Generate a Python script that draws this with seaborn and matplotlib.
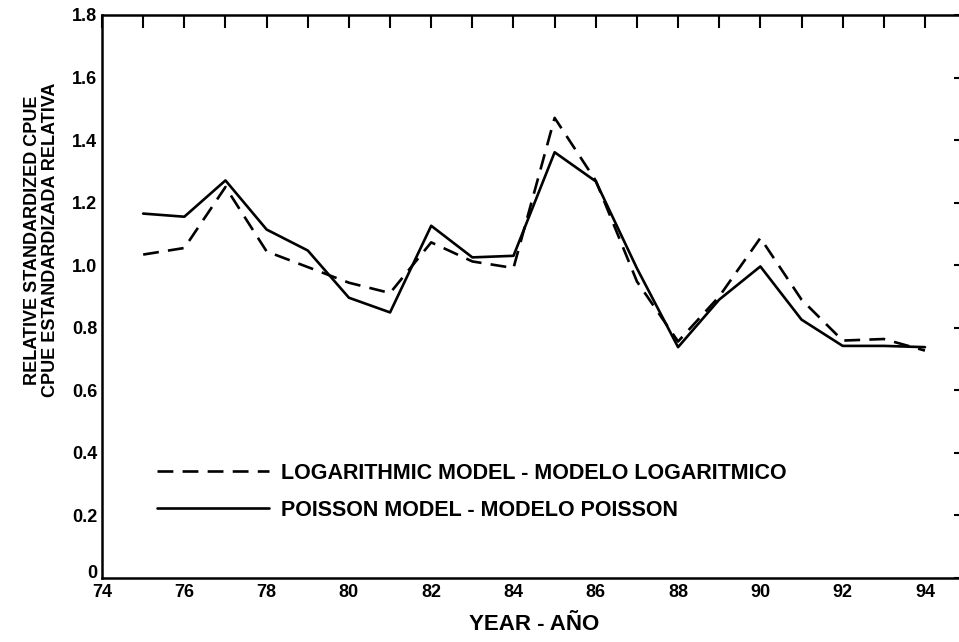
import pandas as pd
import matplotlib
matplotlib.use('Agg')
import matplotlib.pyplot as plt
import matplotlib.transforms as mtransforms
import seaborn as sns

# data
years = list(range(75, 95))
log_model = [1.034, 1.055, 1.25, 1.044, 0.994, 0.944, 0.911, 1.073, 1.012, 0.991,
             1.471, 1.27, 0.948, 0.756, 0.90, 1.087, 0.89, 0.759, 0.764, 0.727]
poisson_model = [1.165, 1.155, 1.271, 1.114, 1.047, 0.896, 0.849, 1.126, 1.025, 1.030,
                 1.361, 1.268, 0.99, 0.738, 0.89, 0.996, 0.826, 0.742, 0.742, 0.738]
series_names = ['LOGARITHMIC MODEL - MODELO LOGARITMICO', 'POISSON MODEL - MODELO POISSON']
x_ticks = list(range(74, 96, 2))
y_ticks = [0, 0.2, 0.4, 0.6, 0.8, 1.0, 1.2, 1.4, 1.6, 1.8]
y_tick_labels = ['0', '0.2', '0.4', '0.6', '0.8', '1.0', '1.2', '1.4', '1.6', '1.8']

df = pd.concat([
    pd.DataFrame({'year': years, 'cpue': log_model, 'model': series_names[0]}),
    pd.DataFrame({'year': years, 'cpue': poisson_model, 'model': series_names[1]}),
])

sns.set_style('white')
plt.rcParams['font.family'] = ['Liberation Sans', 'DejaVu Sans']
plt.rcParams['font.weight'] = 'bold'
for k in ['text.color', 'axes.labelcolor', 'xtick.color', 'ytick.color', 'axes.edgecolor']:
    plt.rcParams[k] = 'black'

fig = plt.figure(figsize=(9.59, 6.42), dpi=100)
ax = fig.add_axes([0.1064, 0.0997, 0.901, 0.877])

sns.lineplot(data=df, x='year', y='cpue', style='model', style_order=series_names,
             dashes={series_names[0]: (6, 3.5), series_names[1]: ''},
             color='black', linewidth=1.9, ax=ax)

ax.set_xlim(74, 95)
ax.set_ylim(0, 1.8)
ax.set_xticks(x_ticks)
ax.set_xticks(years, minor=True)
ax.set_yticks(y_ticks)
ax.set_yticklabels(y_tick_labels)
ax.tick_params(axis='both', which='both', direction='in', length=9, width=1.5,
               top=True, right=True, labelsize=13, colors='black')
ax.tick_params(axis='x', pad=4)
for lab in ax.get_xticklabels() + ax.get_yticklabels():
    lab.set_fontweight('bold')
# the "0" sits a little above the axis corner
zero = ax.get_yticklabels()[0]
zero.set_transform(zero.get_transform() + mtransforms.ScaledTranslation(0, 5 / 72, fig.dpi_scale_trans))
for s in ax.spines.values():
    s.set_linewidth(1.8)
    s.set_color('black')

ax.set_xlabel('YEAR - AÑO', fontsize=16, fontweight='bold', labelpad=10)
ax.set_ylabel('RELATIVE STANDARDIZED CPUE\nCPUE ESTANDARDIZADA RELATIVA',
              fontsize=13, fontweight='bold', linespacing=1.1)
ax.yaxis.set_label_coords(-0.05, 0.60)

leg = ax.legend(loc='upper left', bbox_to_anchor=(146 / 959, 1 - 452 / 642),
                bbox_transform=fig.transFigure, frameon=False, borderpad=0,
                handlelength=5.2, fontsize=15.5, labelspacing=0.75, handletextpad=0.55)
for t in leg.get_texts():
    t.set_fontweight('bold')

plt.savefig('out.png', dpi=100, facecolor='white')
